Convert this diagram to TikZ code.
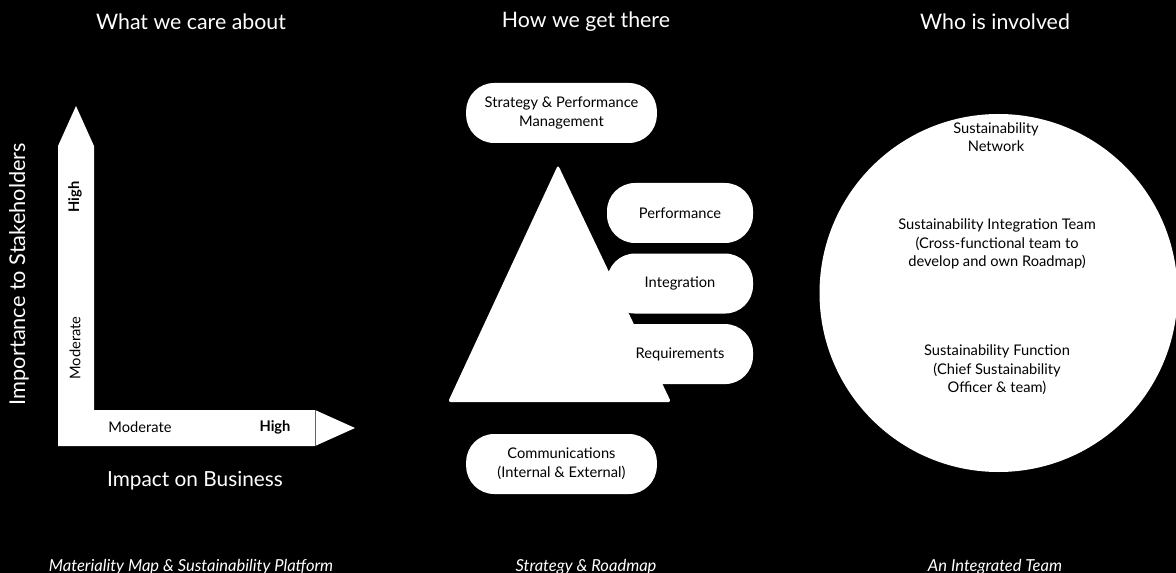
\documentclass[tikz,border=0pt]{standalone}
\usepackage{fontspec}
\setmainfont{Lato}
\usetikzlibrary{positioning}

\tikzset{
  coltitle/.style={text=white,font=\fontsize{16}{19}\selectfont},
  colcaption/.style={text=white,font=\fontsize{12.4}{14}\selectfont\itshape},
  pill/.style={fill=white,rounded corners=21pt,minimum width=143pt,minimum height=45pt,
    align=center,inner sep=0pt,font=\fontsize{11}{14.2}\selectfont},
  tab/.style={pill,minimum width=109.5pt},
  axistext/.style={font=\fontsize{11}{13}\selectfont},
  teamtext/.style={align=center,font=\fontsize{11}{13.9}\selectfont},
}

\begin{document}
\begin{tikzpicture}[x=0.75pt,y=-0.75pt]
\fill[black] (0,0) rectangle (1176,573);
\useasboundingbox (0,0) rectangle (1176,573);

% column titles
\node[coltitle] (whatcare) at (191,22) {What we care about};
\node[coltitle] (howget) at (586,22) {How we get there};
\node[coltitle] (whoinv) at (995,22) {Who is involved};

% materiality map
\fill[white] (58,446) -- (58,146) -- (76,106) -- (94,146) -- (94,410) -- (315,410)
  -- (355,428) -- (315,446) -- cycle;
\draw[black!60,line width=0.4pt] (315,410) -- (315,446);
\node[axistext,rotate=90,font=\fontsize{11}{13}\selectfont\bfseries] (vhigh) at (75,197) {High};
\node[axistext,rotate=90] (vmod) at (75,348) {Moderate};
\node[axistext] (hmod) at (140,427) {Moderate};
\node[axistext,font=\fontsize{11}{13}\selectfont\bfseries] (hhigh) at (275,427) {High};
\node[coltitle,rotate=90,font=\fontsize{16.3}{19}\selectfont] (stake) at (19,274) {Importance to Stakeholders};
\node[coltitle,font=\fontsize{15.6}{19}\selectfont] (impact) at (195,481) {Impact on Business};

% strategy and roadmap
\fill[white,rounded corners=2pt] (558,165) -- (671,402) -- (448,402) -- cycle;
\node[pill] (spm) at (561.5,113) {Strategy \& Performance\\Management};
\node[tab] (perf) at (680,213) {Performance};
\node[tab] (integ) [below=7.5pt of perf] {Integration};
\node[tab] (req) [below=7.5pt of integ] {Requirements};
\node[pill] (comms) at (561.5,464) {Communications\\(Internal \& External)};

% integrated team
\node[circle,fill=white,minimum size=268.5pt,inner sep=0pt] (team) at (998.5,293) {};
\node[teamtext] (network) at (996,137) {Sustainability\\Network};
\node[teamtext] (sit) at (997,244) {Sustainability Integration Team\\(Cross-functional team to\\develop and own Roadmap)};
\node[teamtext] (func) at (997,370) {Sustainability Function\\(Chief Sustainability\\Officer \& team)};

% captions
\node[colcaption,anchor=base] (capmap) at (191,571) {Materiality Map \& Sustainability Platform};
\node[colcaption,anchor=base] (capstrat) at (586,571) {Strategy \& Roadmap};
\node[colcaption,anchor=base] (capteam) at (995,571) {An Integrated Team};
\end{tikzpicture}
\end{document}
